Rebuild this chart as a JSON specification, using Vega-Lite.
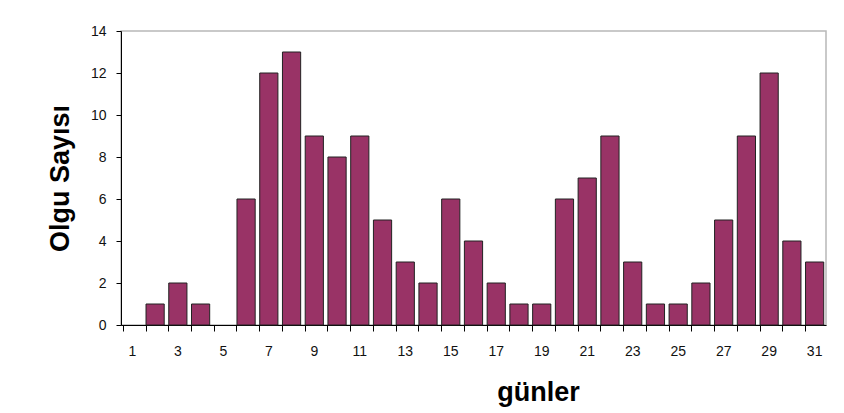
{
  "$schema": "https://vega.github.io/schema/vega-lite/v6.json",
  "width": 705,
  "height": 294,
  "autosize": {"type": "none"},
  "padding": {"left": 121, "top": 31, "right": 18, "bottom": 88},
  "background": "#ffffff",
  "config": {
    "font": "Liberation Sans",
    "view": {"stroke": "#b8b8b8", "strokeWidth": 1.5},
    "axis": {"grid": false, "labelFont": "Liberation Sans", "titleFont": "Liberation Sans"}
  },
  "data": {
    "values": [
      {"gun": 1, "olgu": 0}, {"gun": 2, "olgu": 1}, {"gun": 3, "olgu": 2}, {"gun": 4, "olgu": 1},
      {"gun": 5, "olgu": 0}, {"gun": 6, "olgu": 6}, {"gun": 7, "olgu": 12}, {"gun": 8, "olgu": 13},
      {"gun": 9, "olgu": 9}, {"gun": 10, "olgu": 8}, {"gun": 11, "olgu": 9}, {"gun": 12, "olgu": 5},
      {"gun": 13, "olgu": 3}, {"gun": 14, "olgu": 2}, {"gun": 15, "olgu": 6}, {"gun": 16, "olgu": 4},
      {"gun": 17, "olgu": 2}, {"gun": 18, "olgu": 1}, {"gun": 19, "olgu": 1}, {"gun": 20, "olgu": 6},
      {"gun": 21, "olgu": 7}, {"gun": 22, "olgu": 9}, {"gun": 23, "olgu": 3}, {"gun": 24, "olgu": 1},
      {"gun": 25, "olgu": 1}, {"gun": 26, "olgu": 2}, {"gun": 27, "olgu": 5}, {"gun": 28, "olgu": 9},
      {"gun": 29, "olgu": 12}, {"gun": 30, "olgu": 4}, {"gun": 31, "olgu": 3}
    ]
  },
  "layer": [
    {
      "mark": {"type": "bar", "color": "#993366", "stroke": "#222222"},
      "encoding": {
        "x": {
          "field": "gun",
          "type": "ordinal",
          "sort": null,
          "scale": {"paddingInner": 0.2, "paddingOuter": 0.1},
          "axis": {
            "orient": "bottom",
            "bandPosition": 0,
            "labels": false,
            "title": null,
            "domainColor": "#000000",
            "domainWidth": 1,
            "tickColor": "#000000",
            "tickSize": 6
          }
        },
        "y": {
          "field": "olgu",
          "type": "quantitative",
          "scale": {"domain": [0, 14], "nice": false},
          "axis": {
            "values": [0, 2, 4, 6, 8, 10, 12, 14],
            "title": "Olgu Sayısı",
            "titleFontSize": 27,
            "titleFontWeight": "bold",
            "titleColor": "#000000",
            "titlePadding": 16,
            "labelFontSize": 14,
            "labelColor": "#111111",
            "labelPadding": 10,
            "tickSize": 5,
            "tickColor": "#000000",
            "domainColor": "#000000"
          }
        },
        "strokeWidth": {"condition": {"test": "datum.olgu == 0", "value": 0}, "value": 1}
      }
    },
    {
      "mark": {"type": "bar", "opacity": 0},
      "encoding": {
        "x": {
          "field": "gun",
          "type": "ordinal",
          "sort": null,
          "axis": {
            "orient": "bottom",
            "values": [1, 3, 5, 7, 9, 11, 13, 15, 17, 19, 21, 23, 25, 27, 29, 31],
            "ticks": false,
            "domain": false,
            "labelAngle": 0,
            "labelFontSize": 14,
            "labelColor": "#111111",
            "labelPadding": 19,
            "title": "günler",
            "titleFontSize": 27,
            "titleFontWeight": "bold",
            "titleColor": "#000000",
            "titlePadding": 21,
            "titleX": 417
          }
        },
        "y": {"field": "olgu", "type": "quantitative"}
      }
    }
  ],
  "resolve": {"axis": {"x": "independent"}}
}
